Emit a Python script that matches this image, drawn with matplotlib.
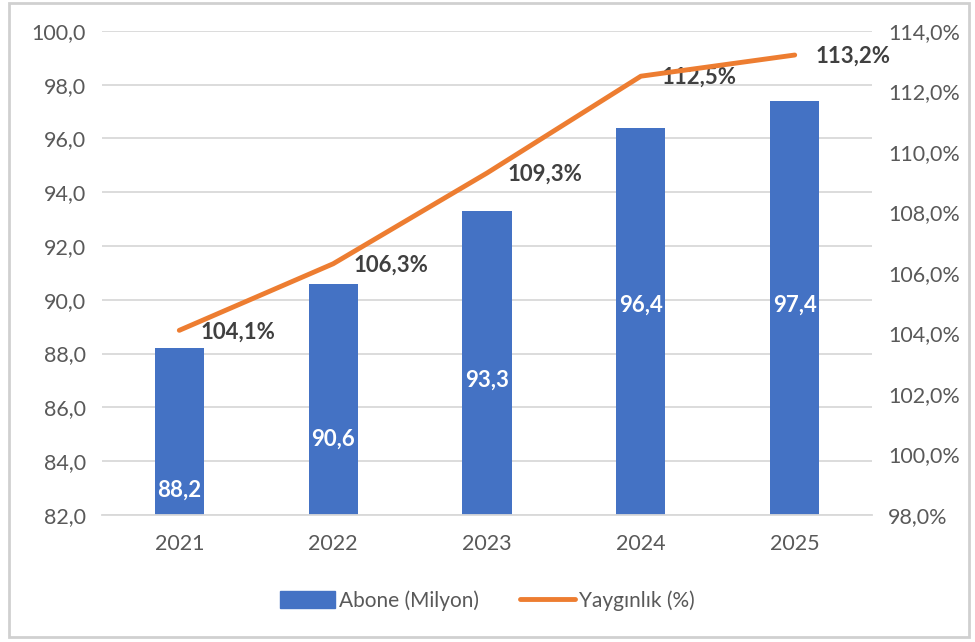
import matplotlib.pyplot as plt
import matplotlib.ticker as mtick
from matplotlib.lines import Line2D
from matplotlib.patches import Patch, Rectangle

# Data
years = ['2021', '2022', '2023', '2024', '2025']
abone = [88.2, 90.6, 93.3, 96.4, 97.4]
yayginlik = [104.1, 106.3, 109.3, 112.5, 113.2]

# where the white bar labels sit (left axis units), as in the original
inner_label_y = [82.9, 84.8, 87.0, 89.8, 89.8]

bar_color = '#4472C4'
line_color = '#ED7D31'
grid_color = '#D9D9D9'
text_color = '#595959'

plt.rcParams['font.family'] = ['Lato', 'DejaVu Sans']

fig = plt.figure(figsize=(9.75, 6.42), dpi=100)
ax = fig.add_axes([0.105, 0.198, 0.789, 0.754])
ax2 = ax.twinx()

x = range(len(years))
ax.bar(x, abone, width=0.32, color=bar_color, zorder=2)
for i, v in enumerate(abone):
    ax.text(i, inner_label_y[i], f'{v:.1f}'.replace('.', ','), ha='center', va='center',
            color='white', fontsize=16, fontweight='bold', zorder=3)

ax.set_ylim(82, 100)
ax.set_xlim(-0.5, len(years) - 0.5)
ax.yaxis.set_major_locator(mtick.MultipleLocator(2))
ax.yaxis.set_major_formatter(mtick.FuncFormatter(lambda v, p: f'{v:.1f}'.replace('.', ',')))
ax.set_xticks(list(x))
ax.set_xticklabels(years)
ax.grid(axis='y', color=grid_color, linewidth=1.3, zorder=0)
ax.set_axisbelow(True)

ax2.plot(x, yayginlik, color=line_color, linewidth=3.5, solid_capstyle='round', zorder=4)
for i, v in enumerate(yayginlik):
    ax2.annotate(f'{v:.1f}%'.replace('.', ','), (i, v), xytext=(15, -1), textcoords='offset points',
                 ha='left', va='center', fontsize=16, fontweight='bold', color='#404040')
ax2.set_ylim(98, 114)
ax2.yaxis.set_major_locator(mtick.MultipleLocator(2))
ax2.yaxis.set_major_formatter(mtick.FuncFormatter(lambda v, p: f'{v:.1f}%'.replace('.', ',')))

for a in (ax, ax2):
    for s in a.spines.values():
        s.set_visible(False)
    a.tick_params(length=0, labelsize=15.5, colors=text_color, pad=12)
ax.spines['bottom'].set_visible(True)
ax.spines['bottom'].set_color(grid_color)
ax.spines['bottom'].set_linewidth(1.3)
ax.tick_params(axis='x', pad=14)

handles = [Patch(color=bar_color, label='Abone (Milyon)'),
           Line2D([0], [0], color=line_color, linewidth=3.5, solid_capstyle='round', label='Yaygınlık (%)')]
leg = fig.legend(handles=handles, loc='center', bbox_to_anchor=(0.5, 0.065), ncol=2, frameon=False,
                 fontsize=15, handlelength=2.6, handleheight=0.9, columnspacing=2.0, handletextpad=0.2)
for t in leg.get_texts():
    t.set_color(text_color)

# outer border like the Excel chart frame
fig.patches.append(Rectangle((0.009, 0.008), 0.985, 0.988, transform=fig.transFigure,
                             fill=False, edgecolor='#D0D0D0', linewidth=2))

plt.savefig('out.png', dpi=100)
plt.close()
